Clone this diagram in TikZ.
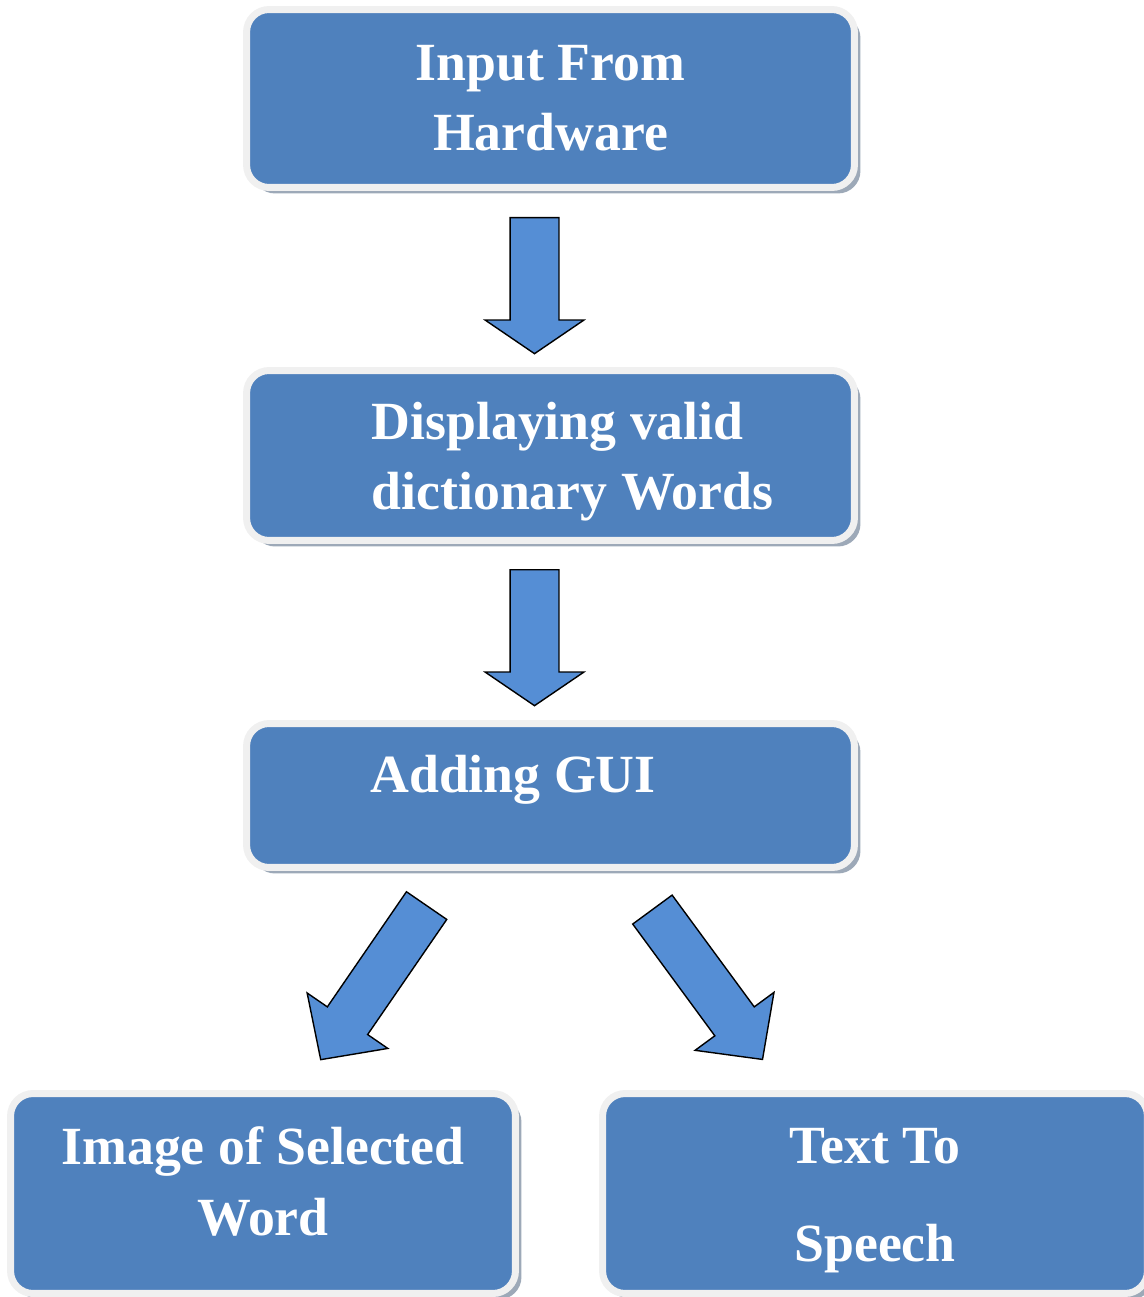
\documentclass[tikz,border=0pt]{standalone}
\usepackage{fontspec}
\setmainfont{Liberation Serif}
\usetikzlibrary{shapes.arrows,shadows}

\definecolor{cajaazul}{HTML}{4F81BD}
\definecolor{bordegris}{HTML}{F0F0F0}
\definecolor{sombragris}{HTML}{9DA9B8}
\definecolor{flechaazul}{HTML}{558ED5}

% Desplaza una línea sin cambiar su caja
\newcommand{\desplaza}[2]{\raisebox{#1}[\height][\depth]{#2}}

\begin{document}
\begin{tikzpicture}[x=0.02cm, y=0.02cm,
    caja/.style={rectangle, rounded corners=0.45cm, fill=cajaazul, draw=bordegris,
        line width=0.14cm, text=white, align=center, inner sep=0pt,
        font={\fontsize{30.6}{40}\selectfont\bfseries},
        drop shadow={shadow xshift=0.12cm, shadow yshift=-0.12cm, fill=sombragris, opacity=1}},
    flecha/.style={single arrow, draw=black, line width=0.8pt, fill=flechaazul,
        inner xsep=0pt, inner ysep=0.475cm, single arrow head extend=0.5cm, anchor=tail}]

% Marco de la figura
\useasboundingbox (0,0) rectangle (1143,-1297);

% =============================================
% CAJAS
% =============================================
\node[caja, minimum width=12.16cm, minimum height=3.56cm] (entrada) at (550.5,-98.5) {Input From\\Hardware};
\node[caja, minimum width=12.16cm, minimum height=3.4cm, align=left] (palabras) at (550.5,-455.5)
    {\hspace*{0.88cm}\desplaza{-0.13cm}{Displaying valid}\\\hspace*{0.88cm}\desplaza{-0.13cm}{dictionary Words}};
\node[caja, minimum width=12.16cm, minimum height=2.88cm] (gui) at (550.5,-795.5)
    {\raisebox{0.07cm}[0pt][0pt]{Adding GUI\hspace*{1.5cm}}};
\node[caja, minimum width=10.1cm, minimum height=4cm] (imagen) at (263,-1193.5)
    {\desplaza{0.24cm}{Image of Selected}\\\desplaza{0.24cm}{Word}};
\node[caja, minimum width=10.9cm, minimum height=4cm] (voz) at (875,-1193.5)
    {\desplaza{-0.14cm}{Text To}\\[15.6pt]\desplaza{-0.14cm}{Speech}};

% =============================================
% FLECHAS DE BLOQUE
% =============================================
% Verticales
\node[flecha, rotate=-90, minimum height=2.72cm, single arrow tip angle=111.5] (f1) at (534.5,-217) {};
\node[flecha, rotate=-90, minimum height=2.72cm, single arrow tip angle=111.5] (f2) at (534.5,-569) {};

% Diagonales hacia las dos salidas
\node[flecha, rotate=235.5, minimum height=3.74cm, single arrow tip angle=92,
    single arrow head extend=0.49cm] (f3) at (427,-905) {};
\node[flecha, rotate=306.3, minimum height=3.72cm, single arrow tip angle=92,
    single arrow head extend=0.49cm] (f4) at (652,-909) {};

\end{tikzpicture}
\end{document}
